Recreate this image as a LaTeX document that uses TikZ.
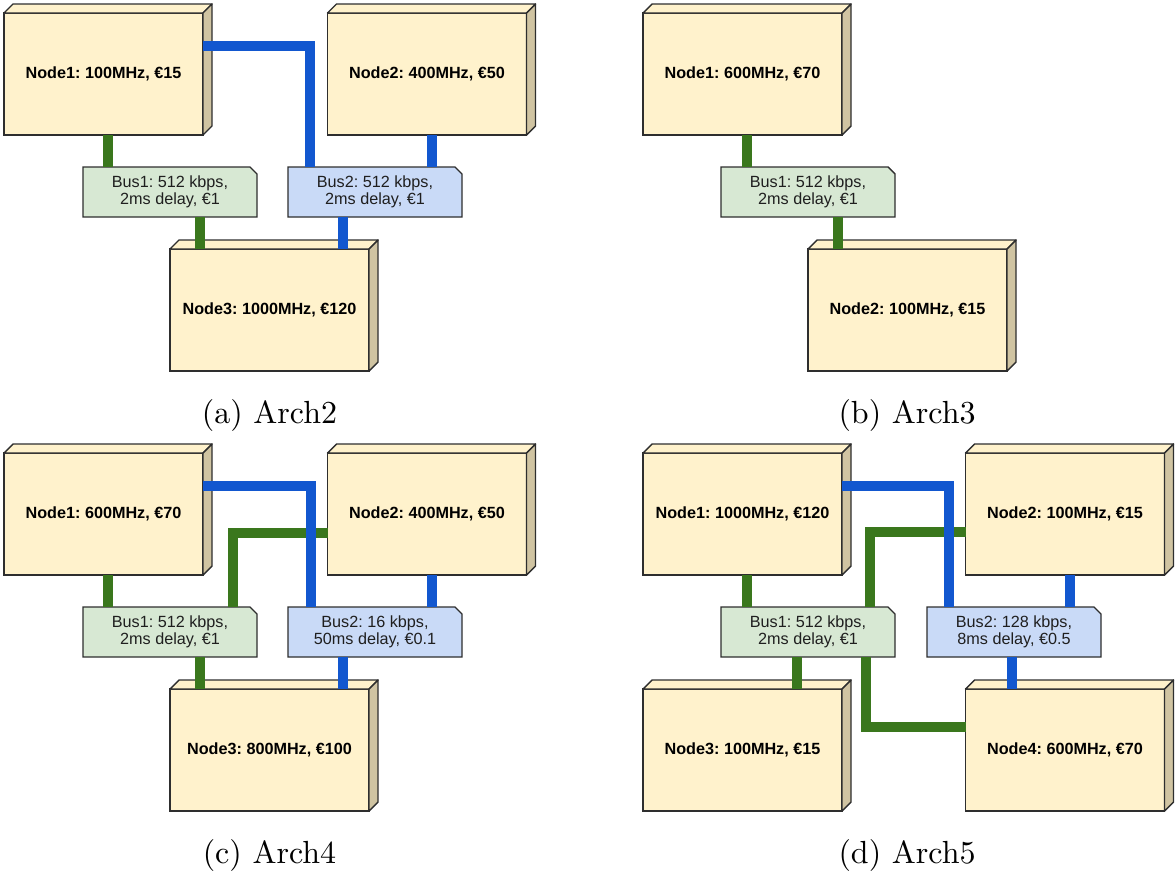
\documentclass[tikz,border=0pt]{standalone}
\usepackage{fontspec}
\newfontfamily\arial{Liberation Sans}
\newfontfamily\capfont{lmroman10-regular}[Extension=.otf]
\frenchspacing
\definecolor{cream}{HTML}{FFF2CC}
\definecolor{tan}{HTML}{D0C4A2}
\definecolor{edge}{HTML}{2E2E2E}
\definecolor{busgreen}{HTML}{D7E8D3}
\definecolor{busblue}{HTML}{C9DAF7}
\definecolor{wiregreen}{HTML}{3A771D}
\definecolor{wireblue}{HTML}{1257CF}
\tikzset{
  hwbox/.style={rectangle, draw=edge, fill=cream, line width=0.7pt,
    minimum width=99.5pt, minimum height=61pt, inner sep=0pt, outer sep=0pt,
    font=\arial\bfseries\fontsize{8.1}{9}\selectfont},
  hwtop/.style={draw=edge, fill=cream, line width=0.7pt, line join=round},
  hwside/.style={draw=edge, fill=tan, line width=0.7pt, line join=round},
  busbox/.style={rectangle, draw=none, minimum width=87pt, minimum height=25pt,
    inner sep=0pt, outer sep=0pt, align=center, text=black!88,
    font=\arial\fontsize{8.1}{8.6}\selectfont},
  busedge/.style={draw=edge, line width=0.7pt},
  gbus/.style={busedge, fill=busgreen},
  bbus/.style={busedge, fill=busblue},
  gwire/.style={draw=wiregreen, line width=5pt, line cap=butt, line join=miter},
  bwire/.style={draw=wireblue, line width=5pt, line cap=butt, line join=miter},
  caption/.style={anchor=base, font=\capfont\fontsize{16}{19}\selectfont},
}
% processing node: front face with a top and a side face (depth 9 units)
\newcommand\hwnode[4]{%
  \node[hwbox] (#1) at (#2,#3) {#4};
  \filldraw[hwtop] (#1.north west) -- ++(9,-9) -- ([shift={(9,-9)}]#1.north east) -- (#1.north east) -- cycle;
  \filldraw[hwside] (#1.north east) -- ([shift={(9,-9)}]#1.north east) -- ([shift={(9,-9)}]#1.south east) -- (#1.south east) -- cycle;
}
% bus: box with the upper right corner cut off
\newcommand\busnode[5]{%
  \filldraw[#4] ({#2-87},{#3-25}) -- ({#2+80},{#3-25}) -- ({#2+87},{#3-18}) -- ({#2+87},{#3+25}) -- ({#2-87},{#3+25}) -- cycle;
  \node[busbox] (#1) at (#2,#3) {#5};
}
\begin{document}
\begin{tikzpicture}[x=0.5pt, y=-0.5pt]
\useasboundingbox (0,0) rectangle (1176,873);

% ---------- Arch2 ----------
\hwnode{a1}{103.5}{74}{Node1: 100MHz, €15}
\hwnode{a2}{427}{74}{Node2: 400MHz, €50}
\hwnode{a3}{269.5}{310}{Node3: 1000MHz, €120}
\busnode{ab1}{170}{192}{gbus}{Bus1: 512 kbps,\\2ms delay, €1}
\busnode{ab2}{375}{192}{bbus}{Bus2: 512 kbps,\\2ms delay, €1}
\draw[gwire] ([shift={(4.5,0)}]a1.south) -- ([shift={(4.5,0)}]a1.south |- ab1.north);
\draw[gwire] ([shift={(30,0)}]ab1.south) -- ([shift={(30,0)}]ab1.south |- a3.north);
\draw[bwire] ([shift={(0,-28)}]a1.east) -| ([shift={(-65,0)}]ab2.north);
\draw[bwire] ([shift={(5,0)}]a2.south) -- ([shift={(5,0)}]a2.south |- ab2.north);
\draw[bwire] ([shift={(-32,0)}]ab2.south) -- ([shift={(-32,0)}]ab2.south |- a3.north);
\node[caption] (capa) at (269.5,423) {(a) Arch2};

% ---------- Arch3 ----------
\hwnode{b1}{742.5}{74}{Node1: 600MHz, €70}
\hwnode{b2}{907.5}{310}{Node2: 100MHz, €15}
\busnode{bb1}{808}{192}{gbus}{Bus1: 512 kbps,\\2ms delay, €1}
\draw[gwire] ([shift={(4.5,0)}]b1.south) -- ([shift={(4.5,0)}]b1.south |- bb1.north);
\draw[gwire] ([shift={(30,0)}]bb1.south) -- ([shift={(30,0)}]bb1.south |- b2.north);
\node[caption] (capb) at (907,423) {(b) Arch3};

% ---------- Arch4 ----------
\hwnode{c1}{103.5}{514}{Node1: 600MHz, €70}
\hwnode{c2}{427}{514}{Node2: 400MHz, €50}
\hwnode{c3}{269.5}{750}{Node3: 800MHz, €100}
\busnode{cb1}{170}{632}{gbus}{Bus1: 512 kbps,\\2ms delay, €1}
\busnode{cb2}{375}{632}{bbus}{Bus2: 16 kbps,\\50ms delay, €0.1}
\draw[gwire] ([shift={(4.5,0)}]c1.south) -- ([shift={(4.5,0)}]c1.south |- cb1.north);
\draw[gwire] ([shift={(63,0)}]cb1.north) |- ([shift={(0,19)}]c2.west);
\draw[gwire] ([shift={(30,0)}]cb1.south) -- ([shift={(30,0)}]cb1.south |- c3.north);
\draw[bwire] ([shift={(0,-28)}]c1.east) -| ([shift={(-64,0)}]cb2.north);
\draw[bwire] ([shift={(5,0)}]c2.south) -- ([shift={(5,0)}]c2.south |- cb2.north);
\draw[bwire] ([shift={(-32,0)}]cb2.south) -- ([shift={(-32,0)}]cb2.south |- c3.north);
\node[caption] (capc) at (269.5,863) {(c) Arch4};

% ---------- Arch5 ----------
\hwnode{d1}{742.5}{514}{Node1: 1000MHz, €120}
\hwnode{d2}{1065}{514}{Node2: 100MHz, €15}
\hwnode{d3}{742.5}{750}{Node3: 100MHz, €15}
\hwnode{d4}{1065}{750}{Node4: 600MHz, €70}
\busnode{db1}{808}{632}{gbus}{Bus1: 512 kbps,\\2ms delay, €1}
\busnode{db2}{1014}{632}{bbus}{Bus2: 128 kbps,\\8ms delay, €0.5}
\draw[gwire] ([shift={(4.5,0)}]d1.south) -- ([shift={(4.5,0)}]d1.south |- db1.north);
\draw[gwire] ([shift={(62,0)}]db1.north) |- ([shift={(0,18)}]d2.west);
\draw[gwire] ([shift={(-11,0)}]db1.south) -- ([shift={(-11,0)}]db1.south |- d3.north);
\draw[gwire] ([shift={(58,0)}]db1.south) |- ([shift={(0,-23)}]d4.west);
\draw[bwire] ([shift={(0,-28)}]d1.east) -| ([shift={(-65,0)}]db2.north);
\draw[bwire] ([shift={(5,0)}]d2.south) -- ([shift={(5,0)}]d2.south |- db2.north);
\draw[bwire] ([shift={(-2,0)}]db2.south) -- ([shift={(-2,0)}]db2.south |- d4.north);
\node[caption] (capd) at (907,863) {(d) Arch5};
\end{tikzpicture}
\end{document}
